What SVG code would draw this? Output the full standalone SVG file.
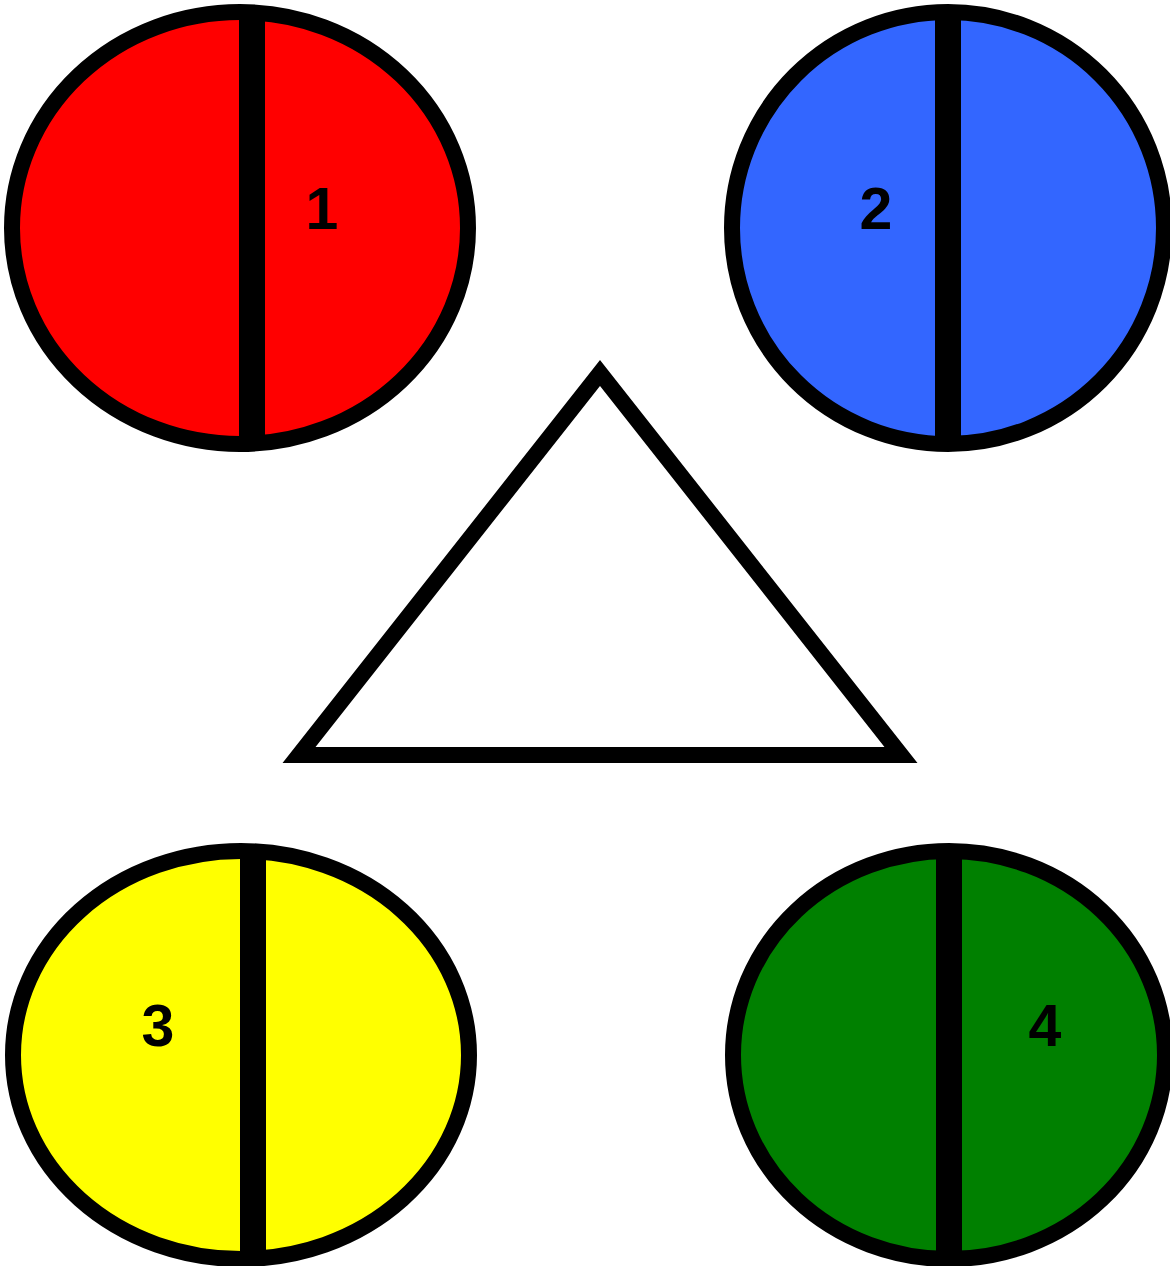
<svg xmlns="http://www.w3.org/2000/svg" width="1170" height="1266" viewBox="0 0 1170 1266">
<style>
.e{stroke:#000;stroke-width:16}
.bar{fill:#000}
.lbl{font-family:"Liberation Sans",Arial,sans-serif;font-weight:bold;font-size:59px;fill:#000;text-anchor:middle}
</style>
<rect width="1170" height="1266" fill="#fff"/>
<g id="node1">
<ellipse class="e" cx="240" cy="228" rx="228" ry="216" fill="#FF0000"/>
<rect class="bar" x="239" y="12" width="26" height="432"/>
<text class="lbl" x="322" y="229">1</text>
</g>
<g id="node2">
<ellipse class="e" cx="948" cy="228" rx="216" ry="216" fill="#3366FF"/>
<rect class="bar" x="935" y="12" width="26" height="432"/>
<text class="lbl" x="876" y="229">2</text>
</g>
<g id="node3">
<ellipse class="e" cx="241" cy="1055" rx="228" ry="204" fill="#FFFF00"/>
<rect class="bar" x="240" y="851" width="26" height="408"/>
<text class="lbl" x="158" y="1046">3</text>
</g>
<g id="node4">
<ellipse class="e" cx="949" cy="1055" rx="216" ry="204" fill="#008000"/>
<rect class="bar" x="936" y="851" width="26" height="408"/>
<text class="lbl" x="1045" y="1046">4</text>
</g>
<g id="triangle">
<polygon points="600,373 299,755 901,755" fill="#fff" stroke="#000" stroke-width="16" stroke-miterlimit="10"/>
</g>
<g id="connectors"></g>
</svg>
